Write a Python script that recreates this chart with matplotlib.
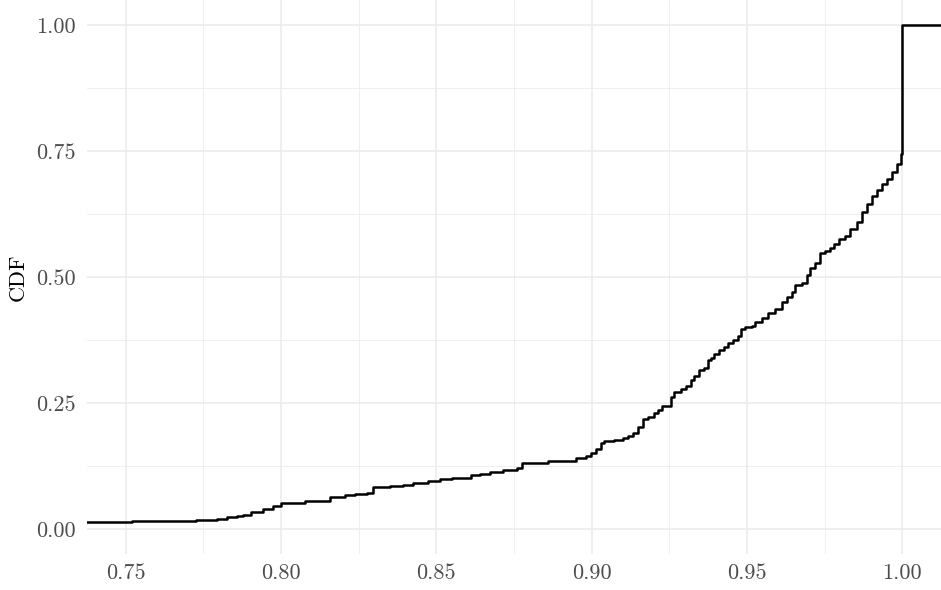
import matplotlib
matplotlib.use("Agg")
import matplotlib.pyplot as plt
import numpy as np

# ECDF steps (x value, cumulative share)
x_steps = [0.7375, 0.7520, 0.7727, 0.7795, 0.7827, 0.7857, 0.7876, 0.7904, 0.7941,
           0.7973, 0.8001, 0.8076, 0.8157, 0.8206, 0.8238, 0.8276, 0.8296, 0.8351,
           0.8393, 0.8425, 0.8474, 0.8513, 0.8550, 0.8610, 0.8642, 0.8674, 0.8716,
           0.8761, 0.8777, 0.8858, 0.8949, 0.8981, 0.8997, 0.9014, 0.9030, 0.9039,
           0.9072, 0.9100, 0.9116, 0.9132, 0.9148, 0.9165, 0.9181, 0.9201, 0.9213,
           0.9227, 0.9256, 0.9265, 0.9288, 0.9304, 0.9320, 0.9330, 0.9346, 0.9362,
           0.9375, 0.9385, 0.9395, 0.9411, 0.9427, 0.9439, 0.9455, 0.9472, 0.9482,
           0.9493, 0.9515, 0.9525, 0.9547, 0.9569, 0.9590, 0.9612, 0.9628, 0.9644,
           0.9655, 0.9676, 0.9692, 0.9703, 0.9719, 0.9735, 0.9752, 0.9768, 0.9779,
           0.9795, 0.9816, 0.9832, 0.9854, 0.9870, 0.9886, 0.9902, 0.9919, 0.9935,
           0.9951, 0.9967, 0.9983, 0.9996, 1.0000, 1.0125]
cdf = [0.013, 0.0155, 0.018, 0.020, 0.023, 0.026, 0.028, 0.033, 0.039,
       0.046, 0.051, 0.056, 0.063, 0.067, 0.069, 0.072, 0.083, 0.085,
       0.087, 0.091, 0.094, 0.099, 0.100, 0.106, 0.109, 0.112, 0.116,
       0.120, 0.130, 0.134, 0.140, 0.145, 0.151, 0.158, 0.170, 0.1745,
       0.176, 0.180, 0.184, 0.191, 0.203, 0.2175, 0.223, 0.229, 0.236,
       0.244, 0.262, 0.272, 0.277, 0.284, 0.295, 0.303, 0.315, 0.319,
       0.335, 0.340, 0.348, 0.355, 0.361, 0.368, 0.375, 0.383, 0.396,
       0.400, 0.403, 0.411, 0.419, 0.428, 0.437, 0.450, 0.460, 0.470,
       0.484, 0.488, 0.504, 0.517, 0.527, 0.547, 0.551, 0.557, 0.566,
       0.576, 0.581, 0.596, 0.610, 0.629, 0.645, 0.660, 0.672, 0.684,
       0.694, 0.708, 0.724, 0.745, 1.000, 1.000]

x_ticks = [0.75, 0.80, 0.85, 0.90, 0.95, 1.00]
x_labels = ["0.75", "0.80", "0.85", "0.90", "0.95", "1.00"]
y_ticks = [0.00, 0.25, 0.50, 0.75, 1.00]
y_labels = ["0.00", "0.25", "0.50", "0.75", "1.00"]

plt.rcParams["font.family"] = ["cmr10", "DejaVu Serif"]
plt.rcParams["axes.formatter.use_mathtext"] = True

fig = plt.figure(figsize=(9.41, 5.90), dpi=100)
ax = fig.add_axes([87 / 941, 36 / 590, 1 - 87 / 941, 554 / 590])

ax.step(x_steps, cdf, where="post", color="black", linewidth=1.8,
        solid_joinstyle="round", zorder=3)

ax.set_xlim(0.7375, 1.0125)
ax.set_ylim(-0.05, 1.05)

ax.set_xticks(x_ticks)
ax.set_xticklabels(x_labels)
ax.set_yticks(y_ticks)
ax.set_yticklabels(y_labels)
ax.set_xticks(np.array(x_ticks[:-1]) + 0.025, minor=True)
ax.set_yticks(np.array(y_ticks[:-1]) + 0.125, minor=True)

ax.grid(which="major", color="#EBEBEB", linewidth=1.1)
ax.grid(which="minor", color="#EBEBEB", linewidth=0.55)
ax.set_axisbelow(True)
for s in ax.spines.values():
    s.set_visible(False)
ax.tick_params(which="both", length=0, labelsize=16, labelcolor="#4D4D4D")
ax.tick_params(axis="x", pad=7)
ax.tick_params(axis="y", pad=8)

ax.set_ylabel("CDF", fontsize=16, labelpad=6)

fig.savefig("out.png", dpi=100)
